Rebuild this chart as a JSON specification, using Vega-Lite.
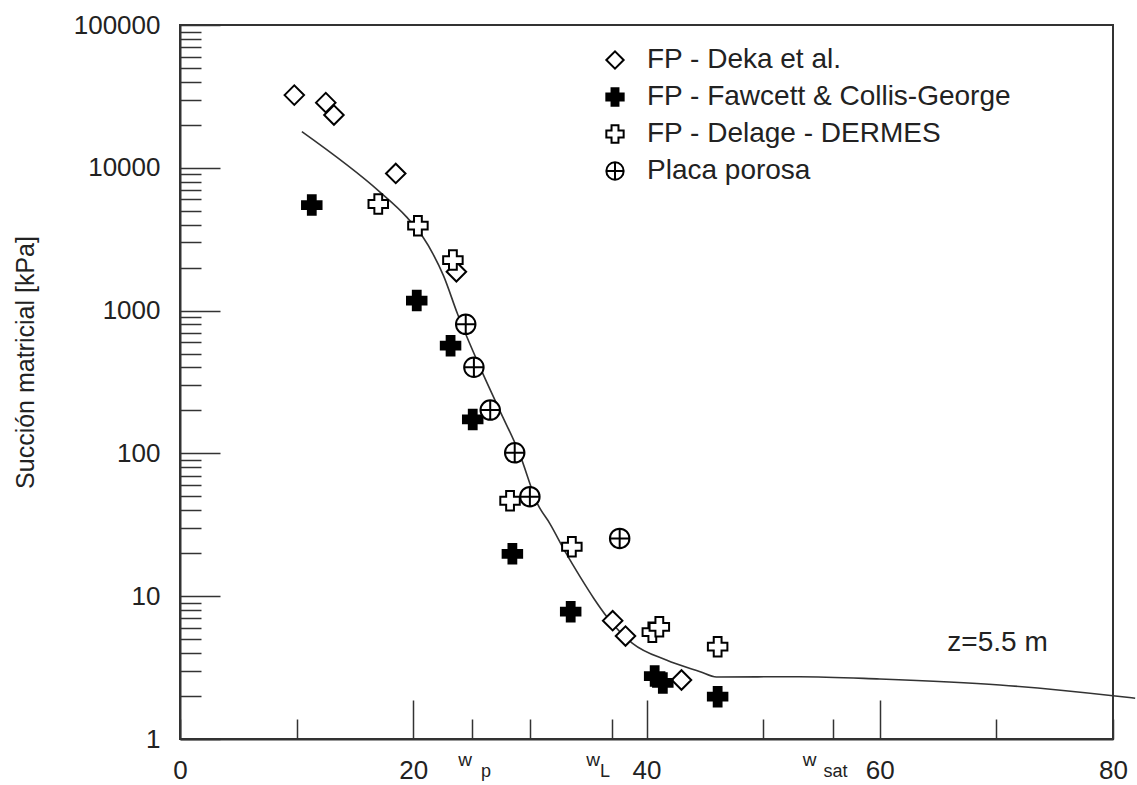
{
  "$schema": "https://vega.github.io/schema/vega-lite/v6.json",
  "width": 933,
  "height": 714,
  "autosize": {"type": "none"},
  "padding": {"left": 180, "top": 25, "right": 24, "bottom": 46},
  "background": "white",
  "config": {
    "font": "Liberation Sans",
    "view": {"stroke": "#333", "strokeWidth": 2},
    "axis": {"grid": false},
    "legend": {"symbolStrokeColor": "black", "symbolStrokeWidth": 2}
  },
  "datasets": {
    "puntos": [
      {"serie": "FP - Deka et al.", "w": 9.8, "s": 32300},
      {"serie": "FP - Deka et al.", "w": 12.5, "s": 28600},
      {"serie": "FP - Deka et al.", "w": 13.2, "s": 23400},
      {"serie": "FP - Deka et al.", "w": 18.5, "s": 9130},
      {"serie": "FP - Deka et al.", "w": 23.7, "s": 1870},
      {"serie": "FP - Deka et al.", "w": 37.1, "s": 6.74},
      {"serie": "FP - Deka et al.", "w": 38.2, "s": 5.26},
      {"serie": "FP - Deka et al.", "w": 43.0, "s": 2.59},
      {"serie": "FP - Fawcett & Collis-George", "w": 11.3, "s": 5480},
      {"serie": "FP - Fawcett & Collis-George", "w": 20.3, "s": 1175},
      {"serie": "FP - Fawcett & Collis-George", "w": 23.2, "s": 568},
      {"serie": "FP - Fawcett & Collis-George", "w": 25.1, "s": 173},
      {"serie": "FP - Fawcett & Collis-George", "w": 28.5, "s": 19.8},
      {"serie": "FP - Fawcett & Collis-George", "w": 33.5, "s": 7.79},
      {"serie": "FP - Fawcett & Collis-George", "w": 40.7, "s": 2.76},
      {"serie": "FP - Fawcett & Collis-George", "w": 41.4, "s": 2.47},
      {"serie": "FP - Fawcett & Collis-George", "w": 46.1, "s": 1.98},
      {"serie": "FP - Delage - DERMES", "w": 17.0, "s": 5580},
      {"serie": "FP - Delage - DERMES", "w": 20.4, "s": 3930},
      {"serie": "FP - Delage - DERMES", "w": 23.4, "s": 2260},
      {"serie": "FP - Delage - DERMES", "w": 28.3, "s": 46.6},
      {"serie": "FP - Delage - DERMES", "w": 33.6, "s": 22.2},
      {"serie": "FP - Delage - DERMES", "w": 40.5, "s": 5.6},
      {"serie": "FP - Delage - DERMES", "w": 41.1, "s": 6.1},
      {"serie": "FP - Delage - DERMES", "w": 46.1, "s": 4.43},
      {"serie": "Placa porosa", "w": 24.5, "s": 802},
      {"serie": "Placa porosa", "w": 25.2, "s": 401},
      {"serie": "Placa porosa", "w": 26.6, "s": 201},
      {"serie": "Placa porosa", "w": 28.7, "s": 101},
      {"serie": "Placa porosa", "w": 30.0, "s": 49.8},
      {"serie": "Placa porosa", "w": 37.7, "s": 25.4}
    ],
    "curva": [
      {"w": 10.45, "s": 17900},
      {"w": 17.1, "s": 6810},
      {"w": 19.4, "s": 4550},
      {"w": 20.8, "s": 3300},
      {"w": 21.7, "s": 2490},
      {"w": 22.6, "s": 1750},
      {"w": 23.8, "s": 946},
      {"w": 25.7, "s": 405},
      {"w": 27.4, "s": 201},
      {"w": 29.1, "s": 100},
      {"w": 30.7, "s": 43.6},
      {"w": 31.7, "s": 32.4},
      {"w": 33.1, "s": 20},
      {"w": 34.3, "s": 13.7},
      {"w": 35.5, "s": 9.6},
      {"w": 36.6, "s": 7.18},
      {"w": 38.8, "s": 4.68},
      {"w": 41.7, "s": 3.57},
      {"w": 44.6, "s": 2.96},
      {"w": 46.0, "s": 2.72},
      {"w": 53.1, "s": 2.73},
      {"w": 60, "s": 2.63},
      {"w": 70.3, "s": 2.39},
      {"w": 80, "s": 2.01},
      {"w": 81.9, "s": 1.93}
    ]
  },
  "resolve": {"scale": {"x": "shared", "y": "shared"}, "axis": {"x": "independent"}},
  "layer": [
    {
      "data": {"name": "curva"},
      "mark": {"type": "line", "color": "#333", "strokeWidth": 1.6, "interpolate": "monotone"},
      "encoding": {
        "x": {
          "field": "w", "type": "quantitative",
          "scale": {"domain": [0, 80], "nice": false, "zero": false},
          "axis": {
            "orient": "bottom",
            "title": null,
            "values": [25, 37, 56],
            "ticks": false,
            "tickSize": 0,
            "domain": false,
            "grid": false,
            "labelExpr": "datum.value == 25 ? 'p' : (datum.value == 37 ? 'L' : 'sat')",
            "labelFontSize": 18,
            "labelColor": "#222",
            "labelBaseline": "alphabetic",
            "labelPadding": 37,
            "labelFlush": false,
            "labelOverlap": false,
            "labelBound": false,
            "labelOffset": {
              "condition": [
                {"test": "datum.value == 25", "value": 14},
                {"test": "datum.value == 37", "value": -7}
              ],
              "value": 2
            }
          }
        },
        "y": {
          "field": "s", "type": "quantitative",
          "scale": {"type": "log", "domain": [1, 100000], "nice": false},
          "axis": {
            "title": "Succión matricial [kPa]",
            "titleFontSize": 25,
            "titleFontWeight": "normal",
            "titleColor": "#222",
            "titleX": -142,
            "titleY": 337,
            "titleAngle": -90,
            "titleBaseline": "bottom",
            "titleAlign": "center",
            "values": [1,2,3,4,5,6,7,8,9,10,20,30,40,50,60,70,80,90,100,200,300,400,500,600,700,800,900,1000,2000,3000,4000,5000,6000,7000,8000,9000,10000,20000,30000,40000,50000,60000,70000,80000,90000,100000],
            "labelExpr": "indexof([1,10,100,1000,10000,100000], datum.value) >= 0 ? format(datum.value, 'd') : ''",
            "domainColor": "#333",
            "domainWidth": 2,
            "tickColor": "#333",
            "tickWidth": 1.5,
            "tickSize": {
              "condition": {"test": "indexof([1,10,100,1000,10000,100000], datum.value) >= 0", "value": -40},
              "value": -21
            },
            "labelPadding": {
              "condition": {"test": "indexof([1,10,100,1000,10000,100000], datum.value) >= 0", "value": 60},
              "value": 41
            },
            "labelFontSize": 26,
            "labelColor": "#222",
            "labelAlign": "right",
            "labelBaseline": "middle",
            "labelFlush": false,
            "labelOverlap": false,
            "labelBound": false
          }
        }
      }
    },
    {
      "data": {"name": "puntos"},
      "mark": {"type": "point", "filled": true, "strokeWidth": 2, "size": 380, "opacity": 1},
      "encoding": {
        "x": {
          "field": "w", "type": "quantitative",
          "scale": {"domain": [0, 80], "nice": false, "zero": false},
          "axis": {
            "orient": "bottom",
            "title": null,
            "values": [0, 10, 20, 25, 30, 37, 40, 50, 56, 60, 70, 80],
            "labelExpr": "indexof([0,20,40,60,80], datum.value) >= 0 ? '' + datum.value : (indexof([25,37,56], datum.value) >= 0 ? 'w' : '')",
            "domainColor": "#333",
            "domainWidth": 2,
            "tickColor": "#333",
            "tickWidth": 1.5,
            "tickSize": {
              "condition": {"test": "indexof([20,40,60], datum.value) >= 0", "value": -39},
              "value": -20
            },
            "labelFontSize": {
              "condition": {"test": "indexof([25,37,56], datum.value) >= 0", "value": 19},
              "value": 26
            },
            "labelPadding": {
              "condition": [
                {"test": "indexof([20,40,60], datum.value) >= 0", "value": 78},
                {"test": "indexof([0,80], datum.value) >= 0", "value": 59}
              ],
              "value": 46
            },
            "labelOffset": {
              "condition": [
                {"test": "datum.value == 25", "value": -7},
                {"test": "datum.value == 37", "value": -19},
                {"test": "datum.value == 56", "value": -24}
              ],
              "value": 0
            },
            "labelBaseline": "alphabetic",
            "labelColor": "#222",
            "labelFlush": false,
            "labelOverlap": false,
            "labelBound": false
          }
        },
        "y": {
          "field": "s", "type": "quantitative",
          "scale": {"type": "log", "domain": [1, 100000], "nice": false},
          "axis": {
            "title": "Succión matricial [kPa]",
            "titleFontSize": 25,
            "titleFontWeight": "normal",
            "titleColor": "#222",
            "titleX": -142,
            "titleY": 337,
            "titleAngle": -90,
            "titleBaseline": "bottom",
            "titleAlign": "center",
            "values": [1,2,3,4,5,6,7,8,9,10,20,30,40,50,60,70,80,90,100,200,300,400,500,600,700,800,900,1000,2000,3000,4000,5000,6000,7000,8000,9000,10000,20000,30000,40000,50000,60000,70000,80000,90000,100000],
            "labelExpr": "indexof([1,10,100,1000,10000,100000], datum.value) >= 0 ? format(datum.value, 'd') : ''",
            "domainColor": "#333",
            "domainWidth": 2,
            "tickColor": "#333",
            "tickWidth": 1.5,
            "tickSize": {
              "condition": {"test": "indexof([1,10,100,1000,10000,100000], datum.value) >= 0", "value": -40},
              "value": -21
            },
            "labelPadding": {
              "condition": {"test": "indexof([1,10,100,1000,10000,100000], datum.value) >= 0", "value": 60},
              "value": 41
            },
            "labelFontSize": 26,
            "labelColor": "#222",
            "labelAlign": "right",
            "labelBaseline": "middle",
            "labelFlush": false,
            "labelOverlap": false,
            "labelBound": false
          }
        },
        "strokeWidth": {"value": 2},
        "stroke": {
          "field": "serie", "type": "nominal",
          "scale": {
            "domain": ["FP - Deka et al.", "FP - Fawcett & Collis-George", "FP - Delage - DERMES", "Placa porosa"],
            "range": ["black", "black", "black", "black"]
          },
          "legend": {
            "title": null,
            "orient": "none",
            "legendX": 421,
            "legendY": 21,
            "labelFontSize": 28,
            "labelColor": "#222",
            "labelLimit": 600,
            "labelOffset": 18,
            "rowPadding": 9,
            "symbolSize": 300,
            "symbolStrokeWidth": 2,
            "padding": 0
          }
        },
        "shape": {
          "field": "serie", "type": "nominal",
          "scale": {
            "domain": ["FP - Deka et al.", "FP - Fawcett & Collis-George", "FP - Delage - DERMES", "Placa porosa"],
            "range": ["diamond", "cross", "cross", "M-1,0A1,1,0,1,1,1,0A1,1,0,1,1,-1,0ZM-1,0H1M0,-1V1"]
          },
          "legend": {
            "title": null,
            "orient": "none",
            "legendX": 421,
            "legendY": 21,
            "labelFontSize": 28,
            "labelColor": "#222",
            "labelLimit": 600,
            "labelOffset": 18,
            "rowPadding": 9,
            "symbolSize": 300,
            "symbolStrokeWidth": 2,
            "padding": 0
          }
        },
        "fill": {
          "field": "serie", "type": "nominal",
          "scale": {
            "domain": ["FP - Deka et al.", "FP - Fawcett & Collis-George", "FP - Delage - DERMES", "Placa porosa"],
            "range": ["white", "black", "white", "white"]
          },
          "legend": {
            "title": null,
            "orient": "none",
            "legendX": 421,
            "legendY": 21,
            "labelFontSize": 28,
            "labelColor": "#222",
            "labelLimit": 600,
            "labelOffset": 18,
            "rowPadding": 9,
            "symbolSize": 300,
            "symbolStrokeWidth": 2,
            "padding": 0
          }
        }
      }
    },
    {
      "data": {"values": [{"rotulo": "z=5.5 m"}]},
      "mark": {"type": "text", "fontSize": 28, "color": "#222", "align": "center", "baseline": "middle"},
      "encoding": {
        "text": {"field": "rotulo", "type": "nominal"},
        "x": {"datum": 70.1, "type": "quantitative", "axis": null},
        "y": {
          "datum": 4.7, "type": "quantitative",
          "axis": {
            "title": "Succión matricial [kPa]",
            "titleFontSize": 25,
            "titleFontWeight": "normal",
            "titleColor": "#222",
            "titleX": -142,
            "titleY": 337,
            "titleAngle": -90,
            "titleBaseline": "bottom",
            "titleAlign": "center",
            "values": [1,2,3,4,5,6,7,8,9,10,20,30,40,50,60,70,80,90,100,200,300,400,500,600,700,800,900,1000,2000,3000,4000,5000,6000,7000,8000,9000,10000,20000,30000,40000,50000,60000,70000,80000,90000,100000],
            "labelExpr": "indexof([1,10,100,1000,10000,100000], datum.value) >= 0 ? format(datum.value, 'd') : ''",
            "domainColor": "#333",
            "domainWidth": 2,
            "tickColor": "#333",
            "tickWidth": 1.5,
            "tickSize": {
              "condition": {"test": "indexof([1,10,100,1000,10000,100000], datum.value) >= 0", "value": -40},
              "value": -21
            },
            "labelPadding": {
              "condition": {"test": "indexof([1,10,100,1000,10000,100000], datum.value) >= 0", "value": 60},
              "value": 41
            },
            "labelFontSize": 26,
            "labelColor": "#222",
            "labelAlign": "right",
            "labelBaseline": "middle",
            "labelFlush": false,
            "labelOverlap": false,
            "labelBound": false
          }
        }
      }
    }
  ]
}
